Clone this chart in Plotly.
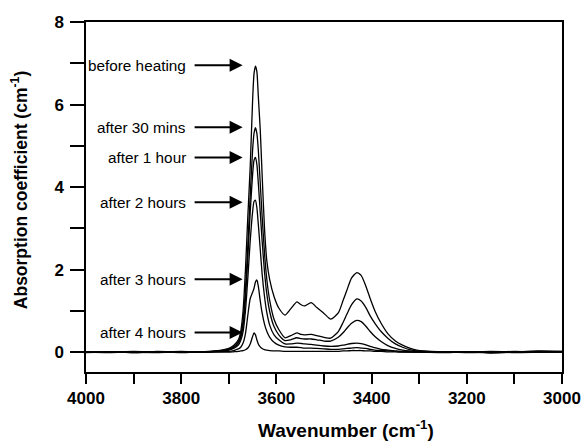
import plotly.graph_objects as go

# Wavenumber grid (cm-1)
wn = [4000, 3950, 3900, 3850, 3800, 3760, 3730, 3710, 3700, 3690, 3680, 3675,
      3670, 3665, 3660, 3655, 3650, 3647, 3644, 3641, 3638, 3634, 3630, 3625,
      3620, 3614, 3605, 3595, 3582, 3570, 3557, 3548, 3541, 3527, 3515, 3500,
      3486, 3470, 3460, 3452, 3442, 3431, 3422, 3412, 3403, 3393, 3380, 3366,
      3350, 3335, 3320, 3305, 3290, 3250, 3200, 3150, 3100, 3050, 3000]

before_heating = [0.0, 0.01, -0.01, 0.02, 0.0, 0.01, 0.03, 0.06, 0.09, 0.16, 0.3, 0.5,
                  1.0, 2.0, 3.3, 4.5, 6.1, 6.75, 6.93, 6.8, 6.2, 5.4, 4.3, 3.0,
                  2.2, 1.75, 1.35, 1.07, 0.9, 1.05, 1.22, 1.15, 1.12, 1.2, 1.08, 0.94,
                  0.8, 0.95, 1.25, 1.5, 1.8, 1.93, 1.86, 1.6, 1.3, 1.0, 0.7, 0.45,
                  0.27, 0.17, 0.1, 0.05, 0.03, 0.01, 0.0, 0.02, 0.01, 0.03, 0.02]

after_30_mins = [0.01, 0.0, 0.02, 0.0, 0.01, 0.0, 0.02, 0.05, 0.07, 0.13, 0.25, 0.4,
                 0.75, 1.5, 2.6, 3.8, 4.9, 5.3, 5.44, 5.3, 4.9, 4.1, 3.3, 2.4,
                 1.75, 1.25, 0.8, 0.55, 0.35, 0.4, 0.47, 0.43, 0.42, 0.43, 0.4, 0.36,
                 0.34, 0.5, 0.72, 0.92, 1.15, 1.29, 1.24, 1.08, 0.88, 0.7, 0.5, 0.34,
                 0.2, 0.12, 0.06, 0.03, 0.02, 0.0, 0.01, 0.0, 0.02, 0.01, 0.02]

after_1_hour = [-0.01, 0.01, 0.0, 0.01, -0.01, 0.01, 0.02, 0.04, 0.06, 0.11, 0.22, 0.35,
                0.65, 1.3, 2.3, 3.4, 4.3, 4.65, 4.72, 4.55, 4.1, 3.4, 2.7, 1.95,
                1.4, 0.98, 0.62, 0.42, 0.28, 0.3, 0.35, 0.33, 0.32, 0.32, 0.3, 0.27,
                0.27, 0.36, 0.47, 0.58, 0.7, 0.77, 0.74, 0.63, 0.5, 0.38, 0.26, 0.16,
                0.09, 0.05, 0.03, 0.02, 0.01, 0.01, -0.01, 0.0, 0.01, 0.0, 0.01]

after_2_hours = [0.0, -0.01, 0.01, 0.0, 0.02, 0.0, 0.02, 0.03, 0.05, 0.09, 0.17, 0.28,
                 0.5, 1.0, 1.8, 2.7, 3.4, 3.65, 3.68, 3.5, 3.1, 2.5, 1.9, 1.35,
                 0.95, 0.65, 0.42, 0.3, 0.2, 0.2, 0.22, 0.21, 0.2, 0.19, 0.17, 0.15,
                 0.14, 0.15, 0.17, 0.19, 0.21, 0.22, 0.21, 0.18, 0.14, 0.11, 0.07, 0.05,
                 0.03, 0.02, 0.01, 0.01, 0.0, -0.01, 0.01, -0.02, 0.0, 0.02, 0.01]

after_3_hours = [0.01, 0.0, 0.0, -0.01, 0.01, 0.0, 0.01, 0.02, 0.02, 0.04, 0.08, 0.12,
                 0.22, 0.45, 0.9, 1.3, 1.45, 1.55, 1.7, 1.75, 1.6, 1.25, 0.95, 0.68,
                 0.5, 0.36, 0.24, 0.17, 0.13, 0.12, 0.12, 0.11, 0.1, 0.1, 0.09, 0.08,
                 0.07, 0.07, 0.08, 0.09, 0.1, 0.11, 0.1, 0.09, 0.07, 0.05, 0.04, 0.03,
                 0.02, 0.01, 0.01, 0.0, 0.0, 0.01, 0.0, 0.01, -0.01, 0.0, 0.01]

after_4_hours = [0.0, 0.01, -0.01, 0.0, 0.0, 0.01, 0.0, 0.0, 0.0, 0.01, 0.02, 0.03,
                 0.04, 0.06, 0.1, 0.2, 0.38, 0.47, 0.42, 0.3, 0.2, 0.13, 0.09, 0.06,
                 0.05, 0.04, 0.03, 0.03, 0.02, 0.02, 0.02, 0.02, 0.02, 0.02, 0.02, 0.02,
                 0.02, 0.02, 0.03, 0.03, 0.04, 0.04, 0.04, 0.03, 0.03, 0.02, 0.02, 0.01,
                 0.01, 0.0, 0.0, 0.0, 0.0, 0.0, 0.01, -0.01, 0.0, 0.01, 0.0]

series = [before_heating, after_30_mins, after_1_hour, after_2_hours,
          after_3_hours, after_4_hours]

# Labels and their arrow heights
labels = ["before heating", "after 30 mins", "after 1 hour", "after 2 hours",
          "after 3 hours", "after 4 hours"]
label_y = [6.95, 5.45, 4.72, 3.63, 1.77, 0.48]
label_text_x = 3786
arrow_tail_x = 3775
arrow_tip_x = 3671

x_ticks = [4000, 3800, 3600, 3400, 3200, 3000]
y_ticks = [0, 2, 4, 6, 8]

FONT = "Arial, Liberation Sans, sans-serif"

fig = go.Figure()
for s in series:
    fig.add_trace(go.Scatter(x=wn, y=s, mode="lines",
                             line=dict(color="black", width=1.3, shape="spline", smoothing=0.6),
                             showlegend=False, hoverinfo="skip"))

annotations = []
for lab, yv in zip(labels, label_y):
    annotations.append(dict(x=label_text_x, y=yv, xref="x", yref="y", text=lab,
                            showarrow=False, xanchor="right", yanchor="middle",
                            font=dict(family=FONT, size=15.3, color="black")))
    annotations.append(dict(x=arrow_tip_x, y=yv, xref="x", yref="y",
                            ax=arrow_tail_x, ay=yv, axref="x", ayref="y", text="",
                            showarrow=True, arrowhead=2, arrowsize=1.3, arrowwidth=2,
                            arrowcolor="black", standoff=0, startstandoff=0))

annotations.append(dict(x=0.546, y=-0.162, xref="paper", yref="paper",
                        text="<b>Wavenumber (cm<sup>-1</sup>)</b>", showarrow=False,
                        xanchor="center", yanchor="middle",
                        font=dict(family=FONT, size=19, color="black")))
annotations.append(dict(x=-0.139, y=0.519, xref="paper", yref="paper",
                        text="<b>Absorption coefficient (cm<sup>-1</sup>)</b>", showarrow=False,
                        textangle=-90, xanchor="center", yanchor="middle",
                        font=dict(family=FONT, size=17.5, color="black")))

fig.update_layout(
    width=583, height=443,
    margin=dict(l=86, r=21, t=22, b=71, autoexpand=False),
    paper_bgcolor="white", plot_bgcolor="white",
    annotations=annotations,
    font=dict(family=FONT, color="black"),
)
fig.update_xaxes(range=[4000, 3000], tickvals=x_ticks, automargin=False,
                 ticktext=[f"<b>{v}</b>" for v in x_ticks],
                 ticks="outside", ticklen=10, tickwidth=1.5, tickcolor="black",
                 minor=dict(ticks="outside", ticklen=10, tickwidth=1.5, tickcolor="black", dtick=100, tick0=3000),
                 showline=True, linewidth=1.5, linecolor="black", mirror=True,
                 showgrid=False, zeroline=False,
                 tickfont=dict(family=FONT, size=17, color="black"))
fig.update_yaxes(range=[-0.48, 8], tickvals=y_ticks, automargin=False,
                 ticktext=[f"<b>{v}</b>" for v in y_ticks],
                 ticks="outside", ticklen=14, tickwidth=1.5, tickcolor="black",
                 minor=dict(ticks="outside", ticklen=14, tickwidth=1.5, tickcolor="black", dtick=1, tick0=0),
                 showline=True, linewidth=1.5, linecolor="black", mirror=True,
                 showgrid=False, zeroline=False, ticklabelstandoff=3,
                 tickfont=dict(family=FONT, size=17, color="black"))

fig.write_html("out.html")
